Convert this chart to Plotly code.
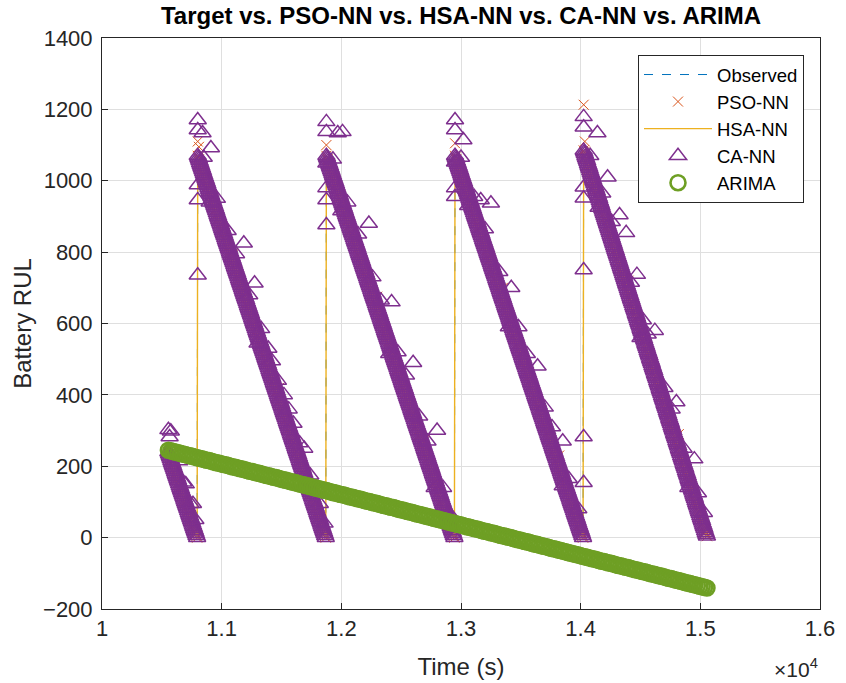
import plotly.graph_objects as go

# ---------------- data ----------------
# Observed RUL sawtooth, sampled every 5 s, one time list per discharge segment
seg1_t = [10555,10560,10565,10570,10575,10580,10585,10590,10595,10600,10605,10610,10615,10620,10625,10630,10635,10640,10645,10650,
          10655,10660,10665,10670,10675,10680,10685,10690,10695,10700,10705,10710,10715,10720,10725,10730,10735,10740,10745,10750,
          10755,10760,10765,10770,10775,10780,10785,10790,10795]
seg1_rul = [240,235,230,225,220,215,210,205,200,195,190,185,180,175,170,165,160,155,150,145,
            140,135,130,125,120,115,110,105,100,95,90,85,80,75,70,65,60,55,50,45,
            40,35,30,25,20,15,10,5,0]
seg2_t = [10800,10805,10810,10815,10820,10825,10830,10835,10840,10845,10850,10855,10860,10865,10870,10875,10880,10885,10890,10895,
          10900,10905,10910,10915,10920,10925,10930,10935,10940,10945,10950,10955,10960,10965,10970,10975,10980,10985,10990,10995,
          11000,11005,11010,11015,11020,11025,11030,11035,11040,11045,11050,11055,11060,11065,11070,11075,11080,11085,11090,11095,
          11100,11105,11110,11115,11120,11125,11130,11135,11140,11145,11150,11155,11160,11165,11170,11175,11180,11185,11190,11195,
          11200,11205,11210,11215,11220,11225,11230,11235,11240,11245,11250,11255,11260,11265,11270,11275,11280,11285,11290,11295,
          11300,11305,11310,11315,11320,11325,11330,11335,11340,11345,11350,11355,11360,11365,11370,11375,11380,11385,11390,11395,
          11400,11405,11410,11415,11420,11425,11430,11435,11440,11445,11450,11455,11460,11465,11470,11475,11480,11485,11490,11495,
          11500,11505,11510,11515,11520,11525,11530,11535,11540,11545,11550,11555,11560,11565,11570,11575,11580,11585,11590,11595,
          11600,11605,11610,11615,11620,11625,11630,11635,11640,11645,11650,11655,11660,11665,11670,11675,11680,11685,11690,11695,
          11700,11705,11710,11715,11720,11725,11730,11735,11740,11745,11750,11755,11760,11765,11770,11775,11780,11785,11790,11795,
          11800,11805,11810,11815,11820,11825,11830,11835,11840,11845,11850,11855,11860,11865,11870]
seg3_t = [11875,11880,11885,11890,11895,
          11900,11905,11910,11915,11920,11925,11930,11935,11940,11945,11950,11955,11960,11965,11970,11975,11980,11985,11990,11995,
          12000,12005,12010,12015,12020,12025,12030,12035,12040,12045,12050,12055,12060,12065,12070,12075,12080,12085,12090,12095,
          12100,12105,12110,12115,12120,12125,12130,12135,12140,12145,12150,12155,12160,12165,12170,12175,12180,12185,12190,12195,
          12200,12205,12210,12215,12220,12225,12230,12235,12240,12245,12250,12255,12260,12265,12270,12275,12280,12285,12290,12295,
          12300,12305,12310,12315,12320,12325,12330,12335,12340,12345,12350,12355,12360,12365,12370,12375,12380,12385,12390,12395,
          12400,12405,12410,12415,12420,12425,12430,12435,12440,12445,12450,12455,12460,12465,12470,12475,12480,12485,12490,12495,
          12500,12505,12510,12515,12520,12525,12530,12535,12540,12545,12550,12555,12560,12565,12570,12575,12580,12585,12590,12595,
          12600,12605,12610,12615,12620,12625,12630,12635,12640,12645,12650,12655,12660,12665,12670,12675,12680,12685,12690,12695,
          12700,12705,12710,12715,12720,12725,12730,12735,12740,12745,12750,12755,12760,12765,12770,12775,12780,12785,12790,12795,
          12800,12805,12810,12815,12820,12825,12830,12835,12840,12845,12850,12855,12860,12865,12870,12875,12880,12885,12890,12895,
          12900,12905,12910,12915,12920,12925,12930,12935,12940,12945]
seg4_t = [12950,12955,12960,12965,12970,12975,12980,12985,12990,12995,
          13000,13005,13010,13015,13020,13025,13030,13035,13040,13045,13050,13055,13060,13065,13070,13075,13080,13085,13090,13095,
          13100,13105,13110,13115,13120,13125,13130,13135,13140,13145,13150,13155,13160,13165,13170,13175,13180,13185,13190,13195,
          13200,13205,13210,13215,13220,13225,13230,13235,13240,13245,13250,13255,13260,13265,13270,13275,13280,13285,13290,13295,
          13300,13305,13310,13315,13320,13325,13330,13335,13340,13345,13350,13355,13360,13365,13370,13375,13380,13385,13390,13395,
          13400,13405,13410,13415,13420,13425,13430,13435,13440,13445,13450,13455,13460,13465,13470,13475,13480,13485,13490,13495,
          13500,13505,13510,13515,13520,13525,13530,13535,13540,13545,13550,13555,13560,13565,13570,13575,13580,13585,13590,13595,
          13600,13605,13610,13615,13620,13625,13630,13635,13640,13645,13650,13655,13660,13665,13670,13675,13680,13685,13690,13695,
          13700,13705,13710,13715,13720,13725,13730,13735,13740,13745,13750,13755,13760,13765,13770,13775,13780,13785,13790,13795,
          13800,13805,13810,13815,13820,13825,13830,13835,13840,13845,13850,13855,13860,13865,13870,13875,13880,13885,13890,13895,
          13900,13905,13910,13915,13920,13925,13930,13935,13940,13945,13950,13955,13960,13965,13970,13975,13980,13985,13990,13995,
          14000,14005,14010,14015,14020]
seg5_t = [14025,14030,14035,14040,14045,14050,14055,14060,14065,14070,14075,14080,14085,14090,14095,
          14100,14105,14110,14115,14120,14125,14130,14135,14140,14145,14150,14155,14160,14165,14170,14175,14180,14185,14190,14195,
          14200,14205,14210,14215,14220,14225,14230,14235,14240,14245,14250,14255,14260,14265,14270,14275,14280,14285,14290,14295,
          14300,14305,14310,14315,14320,14325,14330,14335,14340,14345,14350,14355,14360,14365,14370,14375,14380,14385,14390,14395,
          14400,14405,14410,14415,14420,14425,14430,14435,14440,14445,14450,14455,14460,14465,14470,14475,14480,14485,14490,14495,
          14500,14505,14510,14515,14520,14525,14530,14535,14540,14545,14550,14555,14560,14565,14570,14575,14580,14585,14590,14595,
          14600,14605,14610,14615,14620,14625,14630,14635,14640,14645,14650,14655,14660,14665,14670,14675,14680,14685,14690,14695,
          14700,14705,14710,14715,14720,14725,14730,14735,14740,14745,14750,14755,14760,14765,14770,14775,14780,14785,14790,14795,
          14800,14805,14810,14815,14820,14825,14830,14835,14840,14845,14850,14855,14860,14865,14870,14875,14880,14885,14890,14895,
          14900,14905,14910,14915,14920,14925,14930,14935,14940,14945,14950,14955,14960,14965,14970,14975,14980,14985,14990,14995,
          15000,15005,15010,15015,15020,15025,15030,15035,15040,15045,15050,15055]
# RUL along a full discharge segment (segments 2-4)
ramp_rul = [1070,1065,1060,1055,1050,1045,1040,1035,1030,1025,1020,1015,1010,1005,1000,995,990,985,980,975,
            970,965,960,955,950,945,940,935,930,925,920,915,910,905,900,895,890,885,880,875,
            870,865,860,855,850,845,840,835,830,825,820,815,810,805,800,795,790,785,780,775,
            770,765,760,755,750,745,740,735,730,725,720,715,710,705,700,695,690,685,680,675,
            670,665,660,655,650,645,640,635,630,625,620,615,610,605,600,595,590,585,580,575,
            570,565,560,555,550,545,540,535,530,525,520,515,510,505,500,495,490,485,480,475,
            470,465,460,455,450,445,440,435,430,425,420,415,410,405,400,395,390,385,380,375,
            370,365,360,355,350,345,340,335,330,325,320,315,310,305,300,295,290,285,280,275,
            270,265,260,255,250,245,240,235,230,225,220,215,210,205,200,195,190,185,180,175,
            170,165,160,155,150,145,140,135,130,125,120,115,110,105,100,95,90,85,80,75,
            70,65,60,55,50,45,40,35,30,25,20,15,10,5,0]
seg5_rul = [1085,1080,1075,1069, 1064,1059,1054,1048, 1043,1038,1033,1027, 1022,1017,1012,1006, 1001,996,991,985,
            980,975,970,964, 959,954,949,943, 938,933,928,922, 917,912,907,901, 896,891,886,880,
            875,870,865,859, 854,849,844,838, 833,828,823,817, 812,807,802,796, 791,786,781,775,
            770,765,760,754, 749,744,739,733, 728,723,718,712, 707,702,697,691, 686,681,676,670,
            665,660,655,649, 644,639,634,628, 623,618,613,607, 602,597,592,586, 581,576,571,565,
            560,555,550,544, 539,534,529,523, 518,513,508,502, 497,492,487,481, 476,471,466,460,
            455,450,445,439, 434,429,424,418, 413,408,403,397, 392,387,382,376, 371,366,361,355,
            350,345,340,334, 329,324,319,313, 308,303,298,292, 287,282,277,271, 266,261,256,250,
            245,240,235,229, 224,219,214,208, 203,198,193,187, 182,177,172,166, 161,156,151,145,
            140,135,130,124, 119,114,109,103, 98,93,88,82, 77,72,67,61, 56,51,46,40,
            35,30,25,19, 14,9,4]

time_s = seg1_t + seg2_t + seg3_t + seg4_t + seg5_t
observed_rul = seg1_rul + ramp_rul + ramp_rul + ramp_rul + seg5_rul

# PSO-NN: off-trend predictions (others sit on the observed ramp)
pso_extra_t = [10800, 10810, 11875, 12950, 14025, 14035, 11100, 11480, 12300, 12700, 13350, 13820, 14400, 14820]
pso_extra_rul = [1110, 1095, 1100, 1105, 1213, 1110, 795, 420, 675, 275, 700, 230, 720, 290]

# CA-NN: outlying predictions (others sit on the observed ramp)
ca_extra_t = [
    10555, 10575, 10565, 10645, 10700, 10760, 10600, 10680, 10740, 10780,
    10800, 10800, 10840, 10910, 10800, 10800, 10800, 11185, 11275, 11470, 11560, 11690, 11790,
    10850, 10960, 11050, 11120, 11230, 11330, 11390, 11420, 11520, 11600, 11650, 11740, 11820, 11860, 10900, 11300, 11700,
    11875, 11875, 11970, 12010, 11875, 11875, 11875, 11875, 12230, 12420, 12600, 12800,
    11930, 12050, 12140, 12260, 12330, 12470, 12540, 12650, 12720, 12850, 12920, 12000, 12400, 12780,
    12950, 12950, 13020, 12950, 12950, 12950, 13165, 13250, 13420, 13640, 13850,
    13000, 13110, 13200, 13320, 13480, 13550, 13700, 13760, 13900, 13980, 13060, 13400, 13850,
    14025, 14025, 14140, 14225, 14025, 14025, 14325, 14380, 14025, 14470, 14025, 14025, 14620, 14800, 14950,
    14080, 14180, 14260, 14420, 14520, 14560, 14700, 14760, 14860, 14980, 15030, 14150, 14500, 14900,
]
ca_extra_rul = [
    302, 298, 282, 215, 150, 95, 235, 155, 95, 50,
    1170, 1142, 1134, 1092, 988, 946, 735, 825, 713, 440, 360, 250, 140,
    1065, 950, 860, 795, 680, 585, 530, 495, 400, 320, 265, 175, 95, 40, 940, 545, 145,
    1165, 1137, 1134, 1137, 1049, 980, 946, 876, 880, 660, 490, 300,
    1060, 940, 850, 730, 665, 520, 455, 340, 270, 140, 60, 915, 515, 140,
    1170, 1142, 1114, 1052, 980, 955, 946, 937, 700, 480, 270,
    1065, 955, 865, 745, 590, 515, 365, 310, 165, 80, 930, 590, 145,
    1179, 1150, 1134, 1010, 982, 951, 904, 854, 750, 737, 282, 154, 580, 380, 220,
    1070, 965, 885, 715, 610, 570, 420, 360, 250, 125, 70, 925, 560, 140,
]

# ARIMA forecast, every 20 s
arima_t = [
    10555,10575,10595,10615,10635,10655,10675,10695,10715,10735,
    10755,10775,10795,10815,10835,10855,10875,10895,10915,10935,
    10955,10975,10995,11015,11035,11055,11075,11095,11115,11135,
    11155,11175,11195,11215,11235,11255,11275,11295,11315,11335,
    11355,11375,11395,11415,11435,11455,11475,11495,11515,11535,
    11555,11575,11595,11615,11635,11655,11675,11695,11715,11735,
    11755,11775,11795,11815,11835,11855,11875,11895,11915,11935,
    11955,11975,11995,12015,12035,12055,12075,12095,12115,12135,
    12155,12175,12195,12215,12235,12255,12275,12295,12315,12335,
    12355,12375,12395,12415,12435,12455,12475,12495,12515,12535,
    12555,12575,12595,12615,12635,12655,12675,12695,12715,12735,
    12755,12775,12795,12815,12835,12855,12875,12895,12915,12935,
    12955,12975,12995,13015,13035,13055,13075,13095,13115,13135,
    13155,13175,13195,13215,13235,13255,13275,13295,13315,13335,
    13355,13375,13395,13415,13435,13455,13475,13495,13515,13535,
    13555,13575,13595,13615,13635,13655,13675,13695,13715,13735,
    13755,13775,13795,13815,13835,13855,13875,13895,13915,13935,
    13955,13975,13995,14015,14035,14055,14075,14095,14115,14135,
    14155,14175,14195,14215,14235,14255,14275,14295,14315,14335,
    14355,14375,14395,14415,14435,14455,14475,14495,14515,14535,
    14555,14575,14595,14615,14635,14655,14675,14695,14715,14735,
    14755,14775,14795,14815,14835,14855,14875,14895,14915,14935,
    14955,14975,14995,15015,15035,15055,
]
arima_rul = [
    245,243,241,240,238,236,234, 233,231,229,228,226,224,222,
    221,219,217,216,214,212,210, 209,207,205,204,202,200,198,
    197,195,193,192,190,188,186, 185,183,181,180,178,176,174,
    173,171,169,168,166,164,162, 161,159,157,156,154,152,150,
    149,147,145,144,142,140,138, 137,135,133,132,130,128,126,
    125,123,121,120,118,116,114, 113,111,109,108,106,104,102,
    101,99,97,96,94,92,90, 89,87,85,84,82,80,78,
    77,75,73,72,70,68,66, 65,63,61,60,58,56,54,
    53,51,49,48,46,44,42, 41,39,37,36,34,32,30,
    29,27,25,24,22,20,18, 17,15,13,12,10,8,6,
    5,3,1,0,-2,-4,-6, -7,-9,-11,-12,-14,-16,-18,
    -19,-21,-23,-24,-26,-28,-30, -31,-33,-35,-36,-38,-40,-42,
    -43,-45,-47,-48,-50,-52,-54, -55,-57,-59,-60,-62,-64,-66,
    -67,-69,-71,-72,-74,-76,-78, -79,-81,-83,-84,-86,-88,-90,
    -91,-93,-95,-96,-98,-100,-102, -103,-105,-107,-108,-110,-112,-114,
    -115,-117,-119,-120,-122,-124,-126, -127,-129,-131,-132,-134,-136,-138,
    -139,-141,
]

x_tickvals = [10000, 11000, 12000, 13000, 14000, 15000, 16000]
x_ticktext = ["1", "1.1", "1.2", "1.3", "1.4", "1.5", "1.6"]
y_tickvals = [-200, 0, 200, 400, 600, 800, 1000, 1200, 1400]

# ---------------- figure ----------------
FONT = "Liberation Sans, Arial, Helvetica, sans-serif"
L, R, T, B = 102, 26, 38, 74
PW, PH = 846 - L - R, 683 - T - B
fig = go.Figure()

fig.add_trace(go.Scatter(
    x=time_s, y=observed_rul, mode="lines", name="Observed",
    line=dict(color="#0072BD", width=1, dash="dash"),
))
fig.add_trace(go.Scatter(
    x=time_s + pso_extra_t, y=observed_rul + pso_extra_rul, mode="markers", name="PSO-NN",
    marker=dict(symbol="x-thin-open", size=10, color="#D95319", line=dict(width=1, color="#D95319")),
))
fig.add_trace(go.Scatter(
    x=time_s, y=observed_rul, mode="lines", name="HSA-NN",
    line=dict(color="#EDB120", width=1.4),
))
fig.add_trace(go.Scatter(
    x=time_s + ca_extra_t, y=observed_rul + ca_extra_rul, mode="markers", name="CA-NN",
    marker=dict(symbol="triangle-up-open", size=15, color="#7E2F8E", line=dict(width=1.5, color="#7E2F8E")),
))
fig.add_trace(go.Scatter(
    x=arima_t, y=arima_rul, mode="markers", name="ARIMA",
    marker=dict(symbol="circle-open", size=15, color="#6E9F24", line=dict(width=2.6, color="#6E9F24")),
))

fig.update_layout(
    width=846, height=683,
    margin=dict(l=L, r=R, t=T, b=B),
    paper_bgcolor="white", plot_bgcolor="white",
    font=dict(family=FONT, size=22, color="#262626"),
    title=dict(
        text="<b>Target vs. PSO-NN vs. HSA-NN vs. CA-NN vs. ARIMA</b>",
        x=0.5, xref="paper", xanchor="center",
        y=1 - 16 / 683, yref="container", yanchor="middle",
        font=dict(family=FONT, size=24, color="#000000"),
    ),
    showlegend=True,
    legend=dict(
        x=(638 - L) / PW, xanchor="left", y=(609 - 55) / PH, yanchor="top",
        bgcolor="white", bordercolor="#262626", borderwidth=1,
        font=dict(family=FONT, size=18.5, color="#000000"),
        itemwidth=68, tracegroupgap=0,
    ),
)
fig.update_xaxes(
    range=[10000, 16000], tickvals=x_tickvals, ticktext=x_ticktext, automargin=False,
    ticks="inside", ticklen=6, tickcolor="#262626",
    showline=True, mirror=True, linecolor="#262626", linewidth=1,
    showgrid=True, gridcolor="#DFDFDF", gridwidth=1, zeroline=False,
    title=dict(text="Time (s)", font=dict(family=FONT, size=24, color="#262626"), standoff=17),
)
fig.update_yaxes(
    range=[-200, 1400], tickvals=y_tickvals, automargin=False,
    ticks="inside", ticklen=6, tickcolor="#262626", ticklabelstandoff=4,
    showline=True, mirror=True, linecolor="#262626", linewidth=1,
    showgrid=True, gridcolor="#DFDFDF", gridwidth=1, zeroline=False,
    title=dict(text="Battery RUL", font=dict(family=FONT, size=24, color="#262626"), standoff=4),
)
fig.add_annotation(
    text="×10<sup>4</sup>", xref="paper", yref="paper",
    x=1.0, xanchor="right", y=-(668 - (683 - B)) / PH, yanchor="middle",
    showarrow=False, font=dict(family=FONT, size=21, color="#262626"),
)

fig.write_html("out.html")
